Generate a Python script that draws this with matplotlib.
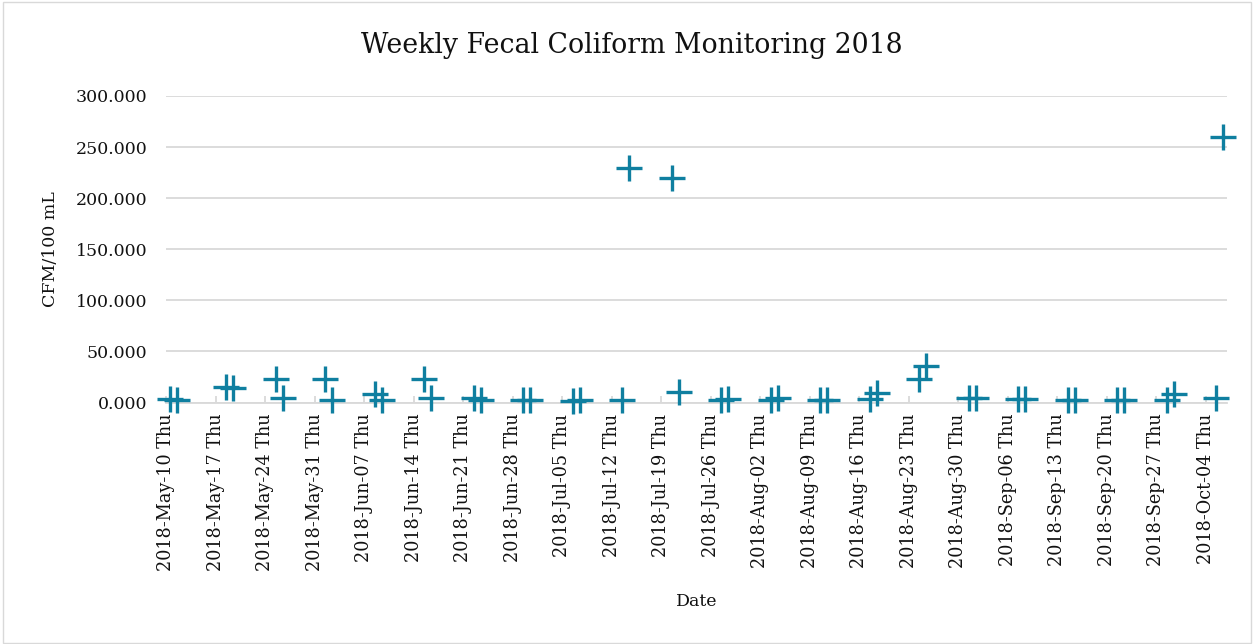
import matplotlib
matplotlib.use("Agg")
import matplotlib.pyplot as plt
import matplotlib.dates as mdates
import pandas as pd

# sample dates and counts
sample_dates = [
    "2018-05-10", "2018-05-11", "2018-05-18", "2018-05-19", "2018-05-25", "2018-05-26",
    "2018-06-01", "2018-06-02", "2018-06-08", "2018-06-09", "2018-06-15", "2018-06-16",
    "2018-06-22", "2018-06-23", "2018-06-29", "2018-06-30", "2018-07-06", "2018-07-07",
    "2018-07-13", "2018-07-14", "2018-07-20", "2018-07-21", "2018-07-27", "2018-07-28",
    "2018-08-03", "2018-08-04", "2018-08-10", "2018-08-11", "2018-08-17", "2018-08-18",
    "2018-08-24", "2018-08-25", "2018-08-31", "2018-09-01", "2018-09-07", "2018-09-08",
    "2018-09-14", "2018-09-15", "2018-09-21", "2018-09-22", "2018-09-28", "2018-09-29",
    "2018-10-05", "2018-10-06",
]
cfm_values = [
    3, 2, 15, 14, 23, 4,
    23, 2, 8, 2, 23, 4,
    4, 2, 2, 2, 1, 2,
    2, 230, 220, 10, 2, 3,
    2, 4, 2, 2, 3, 9,
    23, 36, 4, 4, 3, 3,
    2, 2, 2, 2, 2, 8,
    4, 260,
]
week_ticks = pd.date_range("2018-05-10", "2018-10-04", freq="7D")

plt.rcParams["font.family"] = ["DejaVu Serif"]

fig = plt.figure(figsize=(12.54, 6.44), dpi=100)
ax = fig.add_axes([166 / 1254, 1 - 402.5 / 644, (1227 - 166) / 1254, (402.5 - 96) / 644])

# frame around the whole chart area
fig.patches.append(plt.Rectangle((0.002, 0.002), 0.996, 0.995, transform=fig.transFigure,
                                 fill=False, edgecolor="#d9d9d9", linewidth=1))

# points sit in the middle of each day slot, like excel's date axis
x = pd.to_datetime(sample_dates) + pd.Timedelta(hours=12)
ax.plot(x, cfm_values, linestyle="none", marker="+", markersize=19,
        markeredgewidth=2.4, color="#0f7fa0", clip_on=False, zorder=3)

ax.set_xlim(pd.Timestamp("2018-05-10"), pd.Timestamp("2018-10-07"))
ax.set_ylim(0, 300)
ax.set_yticks(range(0, 301, 50))
ax.yaxis.set_major_formatter(matplotlib.ticker.FormatStrFormatter("%.3f"))
ax.set_xticks(week_ticks)
ax.xaxis.set_major_formatter(mdates.DateFormatter("%Y-%b-%d %a"))

ax.grid(True, axis="y", color="#d9d9d9", linewidth=1.3)
ax.set_axisbelow(True)
for side in ["top", "right", "left"]:
    ax.spines[side].set_visible(False)
ax.spines["bottom"].set_color("#d9d9d9")
ax.spines["bottom"].set_linewidth(1.3)

ax.tick_params(axis="y", length=0, pad=13.5, labelsize=12.5, labelcolor="#111111")
ax.tick_params(axis="x", direction="in", length=5, color="#d9d9d9", width=1.3,
               pad=8, labelsize=12.7, labelcolor="#111111", labelrotation=90)

ax.set_xlabel("Date", fontsize=12.5, color="#111111", labelpad=16)
ax.set_ylabel("CFM/100 mL", fontsize=12.5, color="#111111", labelpad=12)
fig.text(0.504, 0.93, "Weekly Fecal Coliform Monitoring 2018", ha="center", va="center",
         fontsize=19.3, color="#111111")

fig.savefig("out.png", dpi=100)
